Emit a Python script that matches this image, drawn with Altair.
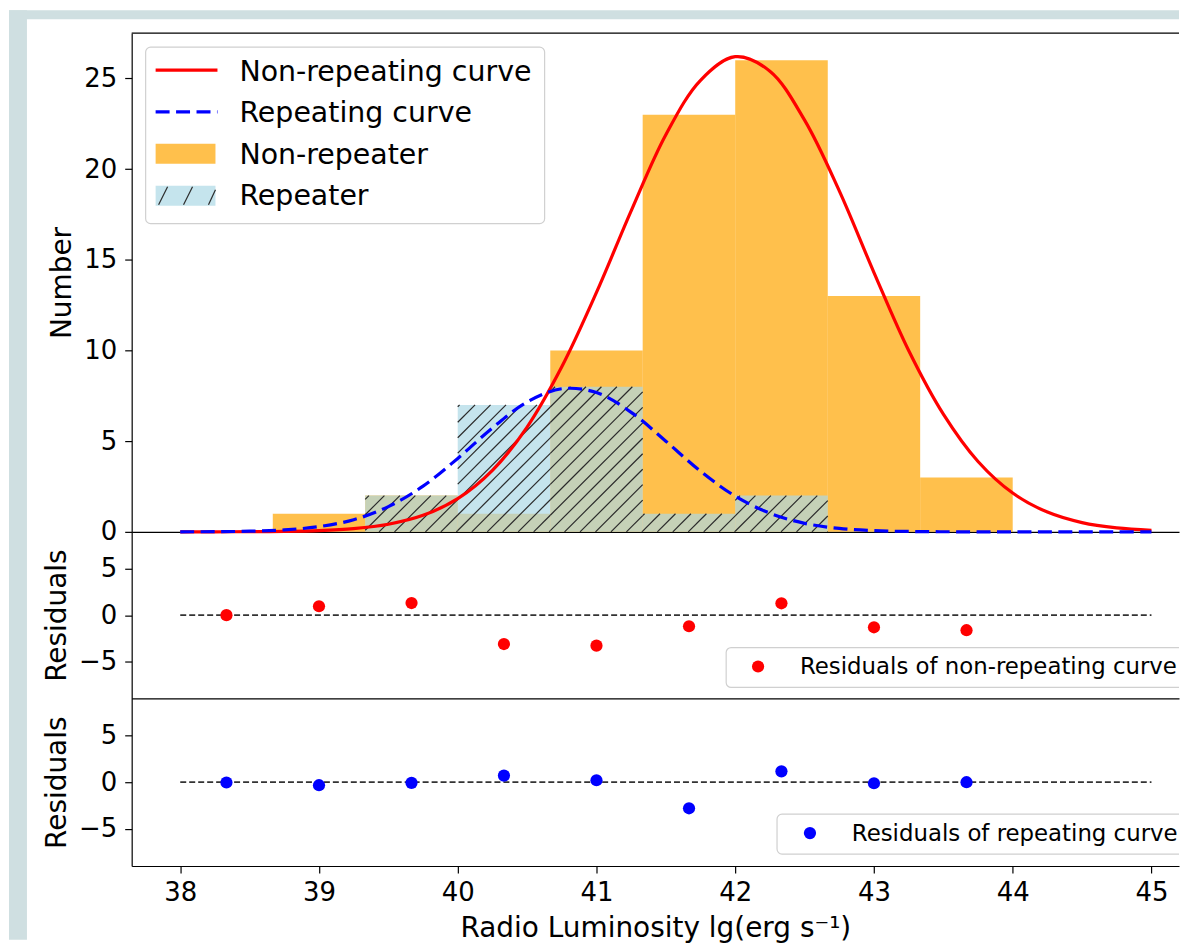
import math
import altair as alt
import pandas as pd

# ---------------- data ----------------
bin_edges = [38.0, 38.667, 39.333, 40.0, 40.667, 41.333, 42.0, 42.667, 43.333, 44.0]
non_repeater_counts = [0, 1, 2, 1, 10, 23, 26, 13, 3]
repeater_counts = [0, 0, 2, 7, 8, 1, 2, 0, 0]

bin_centers = [38.333, 39.0, 39.667, 40.333, 41.0, 41.667, 42.333, 43.0, 43.667]
resid_nonrep = [0.0, 0.96, 1.31, -3.12, -3.3, -1.2, 1.28, -1.31, -1.63]
resid_rep = [-0.03, -0.32, -0.07, 0.71, 0.21, -2.8, 1.17, -0.11, 0.0]

curve_x = [38.0, 38.25, 38.5, 38.75, 39.0, 39.25, 39.5, 39.75, 40.0, 40.25,
           40.5, 40.75, 41.0, 41.25, 41.5, 41.75, 42.0, 42.25, 42.5, 42.75,
           43.0, 43.25, 43.5, 43.75, 44.0, 44.25, 44.5, 44.75, 45.0]
curve_nonrep = [0.0007, 0.0026, 0.0084, 0.025, 0.07, 0.18, 0.42, 0.91, 1.83, 3.39,
                5.78, 9.10, 13.2, 17.7, 21.9, 24.9, 26.2, 25.4, 22.7, 18.8,
                14.3, 10.0, 6.49, 3.88, 2.14, 1.09, 0.51, 0.22, 0.09]
curve_rep = [0.0028, 0.011, 0.036, 0.11, 0.29, 0.67, 1.39, 2.52, 4.05, 5.73,
             7.16, 7.89, 7.68, 6.59, 5.00, 3.34, 1.97, 1.03, 0.47, 0.19,
             0.069, 0.022, 0.006, 0.002, 0.0, 0.0, 0.0, 0.0, 0.0]
zero_line = [38.0, 45.0]

x_ticks = [38, 39, 40, 41, 42, 43, 44, 45]
y_ticks_top = [0, 5, 10, 15, 20, 25]
y_ticks_res = [-5, 0, 5]

legend_top = ["Non-repeating curve", "Repeating curve", "Non-repeater", "Repeater"]
legend_res1 = "Residuals of non-repeating curve"
legend_res2 = "Residuals of repeating curve"

# ---------------- layout ----------------
FONT = "DejaVu Sans"
PX_PER_UNIT = 139.1
XMIN = 37.65
W = 1050
XMAX = XMIN + W / PX_PER_UNIT
H1, H2, H3 = 500, 167, 168
YMAX1 = 27.5
RES_DOM = [-9, 9]
BAND = "#cfdfe1"
ORANGE = "#ffa500"
LBLUE = "#add8e6"

xscale = alt.Scale(domain=[XMIN, XMAX], nice=False, zero=False)
y1scale = alt.Scale(domain=[0, YMAX1], nice=False)
yrscale = alt.Scale(domain=RES_DOM, nice=False)

def yaxis(values, title):
    return alt.Axis(values=values, title=title, grid=False, domain=True,
                    domainColor="black", domainWidth=1.2,
                    tickSize=7, tickWidth=1.2, tickColor="black",
                    labelFontSize=26, labelColor="black", labelPadding=8,
                    labelFont=FONT, titleFont=FONT, titleFontSize=28,
                    titleFontWeight="normal", titleColor="black",
                    titlePadding=7, labelFlush=False)

plain_x_axis = alt.Axis(title=None, grid=False, domain=True, domainColor="black",
                        domainWidth=1.2, ticks=False, labels=False)

one = pd.DataFrame({"a": [0]})

bars = pd.DataFrame({
    "x0": bin_edges[:-1], "x1": bin_edges[1:],
    "nonrep": non_repeater_counts, "rep": repeater_counts,
    "zero": [0] * len(non_repeater_counts),
})
curves = pd.DataFrame({"x": curve_x, "nonrep": curve_nonrep, "rep": curve_rep})

# hatch segments ("//") inside the repeater bars, on a pixel grid
sx = W / (XMAX - XMIN)
sy = H1 / YMAX1
SP = 15.5
hrows = []
for i, h in enumerate(repeater_counts):
    if h <= 0:
        continue
    X0 = (bin_edges[i] - XMIN) * sx
    X1 = (bin_edges[i + 1] - XMIN) * sx
    Hp = h * sy
    for k in range(math.floor((X0 - Hp) / SP) - 1, math.ceil(X1 / SP) + 2):
        c = k * SP
        lo = max(0.0, X0 - c)
        hi = min(Hp, X1 - c)
        if hi - lo > 0.3:
            hrows.append({"hx": XMIN + (c + lo) / sx, "hy": lo / sy,
                          "hx2": XMIN + (c + hi) / sx, "hy2": hi / sy})
hatch = pd.DataFrame(hrows)

# ---------------- top panel ----------------
band_left = alt.Chart(one).mark_rect(color=BAND).encode(
    x=alt.value(-123), x2=alt.value(-105), y=alt.value(-23), y2=alt.value(909))
band_top = alt.Chart(one).mark_rect(color=BAND).encode(
    x=alt.value(-123), x2=alt.value(W), y=alt.value(-23), y2=alt.value(-14))

top_border = alt.Chart(one).mark_rule(color="black", strokeWidth=1.2).encode(
    x=alt.datum(XMIN, scale=xscale), x2=alt.datum(XMAX), y=alt.datum(YMAX1, scale=y1scale))

orange_bars = alt.Chart(bars).mark_rect(color=ORANGE, opacity=0.7).encode(
    x=alt.X("x0:Q", scale=xscale, axis=plain_x_axis), x2="x1:Q",
    y=alt.Y("nonrep:Q", scale=y1scale, axis=yaxis(y_ticks_top, "Number")),
    y2="zero:Q")
blue_bars = alt.Chart(bars).mark_rect(color=LBLUE, opacity=0.7).encode(
    x=alt.X("x0:Q", scale=xscale), x2="x1:Q",
    y=alt.Y("rep:Q", scale=y1scale), y2="zero:Q")
hatch_lines = alt.Chart(hatch).mark_rule(color="#2a2a2a", strokeWidth=1.2).encode(
    x=alt.X("hx:Q", scale=xscale), x2="hx2:Q",
    y=alt.Y("hy:Q", scale=y1scale), y2="hy2:Q")
red_curve = alt.Chart(curves).mark_line(color="#ff0000", strokeWidth=3.2,
                                        interpolate="catmull-rom").encode(
    x=alt.X("x:Q", scale=xscale),
    y=alt.Y("nonrep:Q", scale=y1scale))
blue_curve = alt.Chart(curves).mark_line(color="#0000ff", strokeWidth=3.2,
                                         strokeDash=[14, 6.5],
                                         interpolate="catmull-rom").encode(
    x=alt.X("x:Q", scale=xscale),
    y=alt.Y("rep:Q", scale=y1scale))

leg_box = alt.Chart(one).mark_rect(fill="white", fillOpacity=0.8, stroke="#d0d0d0",
                                   strokeWidth=1.2, cornerRadius=5).encode(
    x=alt.value(14), x2=alt.value(414), y=alt.value(14), y2=alt.value(191))
leg_red = alt.Chart(one).mark_rule(color="#ff0000", strokeWidth=3.2).encode(
    x=alt.value(24), x2=alt.value(86), y=alt.value(37))
leg_blue = alt.Chart(one).mark_rule(color="#0000ff", strokeWidth=3.2,
                                    strokeDash=[14, 6.5]).encode(
    x=alt.value(24), x2=alt.value(86), y=alt.value(79))
leg_orange = alt.Chart(one).mark_rect(color=ORANGE, opacity=0.7).encode(
    x=alt.value(24), x2=alt.value(84), y=alt.value(111), y2=alt.value(131))
leg_lblue = alt.Chart(one).mark_rect(color=LBLUE, opacity=0.7).encode(
    x=alt.value(24), x2=alt.value(84), y=alt.value(153), y2=alt.value(173))
leg_hatch = [
    alt.Chart(one).mark_rule(color="#2a2a2a", strokeWidth=1.2).encode(
        x=alt.value(a), x2=alt.value(b), y=alt.value(c), y2=alt.value(d))
    for a, b, c, d in [(27, 36, 172, 154), (52, 61, 172, 154), (77, 84, 172, 157)]
]
leg_texts = [
    alt.Chart(one).mark_text(align="left", baseline="alphabetic", font=FONT,
                             fontSize=28.5, color="black").encode(
        x=alt.value(108), y=alt.value(yy), text=alt.value(t))
    for t, yy in zip(legend_top, [47.5, 89.2, 130.9, 172.6])
]

top = alt.layer(band_left, band_top, orange_bars, blue_bars, hatch_lines,
                red_curve, blue_curve, top_border, leg_box, leg_red, leg_blue,
                leg_orange, leg_lblue, *leg_hatch, *leg_texts
                ).properties(width=W, height=H1)

# ---------------- residual panels ----------------
def residual_panel(values, color, label, box_x, dot_x, text_x, height, xaxis):
    df = pd.DataFrame({"x": bin_centers, "r": values})
    zl = pd.DataFrame({"x": [zero_line[0]], "x2": [zero_line[1]], "y": [0]})
    zero = alt.Chart(zl).mark_rule(color="#333333", strokeWidth=1.8,
                                   strokeDash=[6, 3]).encode(
        x=alt.X("x:Q", scale=xscale, axis=xaxis), x2="x2:Q",
        y=alt.Y("y:Q", scale=yrscale, axis=yaxis(y_ticks_res, "Residuals")))
    pts = alt.Chart(df).mark_circle(color=color, size=150, opacity=1).encode(
        x=alt.X("x:Q", scale=xscale), y=alt.Y("r:Q", scale=yrscale))
    box = alt.Chart(one).mark_rect(fill="white", fillOpacity=0.8, stroke="#d0d0d0",
                                   strokeWidth=1.2, cornerRadius=5, clip=True).encode(
        x=alt.value(box_x), x2=alt.value(W + 10), y=alt.value(116), y2=alt.value(156))
    dot = alt.Chart(one).mark_circle(color=color, size=150, opacity=1).encode(
        x=alt.value(dot_x), y=alt.value(135))
    txt = alt.Chart(one).mark_text(align="left", baseline="alphabetic", font=FONT,
                                   fontSize=22.9, color="black").encode(
        x=alt.value(text_x), y=alt.value(143), text=alt.value(label))
    return alt.layer(zero, pts, box, dot, txt).properties(width=W, height=height)

bottom_axis = alt.Axis(values=x_ticks, format="d", title="Radio Luminosity lg(erg s⁻¹)",
                       grid=False, domain=True, domainColor="black", domainWidth=1.2,
                       tickSize=7, tickWidth=1.2,
                       tickColor="black", labelFontSize=26, labelColor="black",
                       labelPadding=7, labelFont=FONT, titleFont=FONT,
                       titleFontSize=28, titleFontWeight="normal",
                       titleColor="black", titlePadding=9, labelFlush=False)

mid = residual_panel(resid_nonrep, "#ff0000", legend_res1, 596, 628, 670, H2, plain_x_axis)
bot = residual_panel(resid_rep, "#0000ff", legend_res2, 647, 680, 722, H3, bottom_axis)

chart = alt.vconcat(top, mid, bot, spacing=0, bounds="flush").properties(
    padding={"left": 0, "top": 0, "right": 0, "bottom": 0},
    background="white",
).configure(
    font=FONT,
    view=alt.ViewConfig(stroke="transparent"),
)

chart.save("out.html", embed_options={"renderer": "svg", "actions": False})
